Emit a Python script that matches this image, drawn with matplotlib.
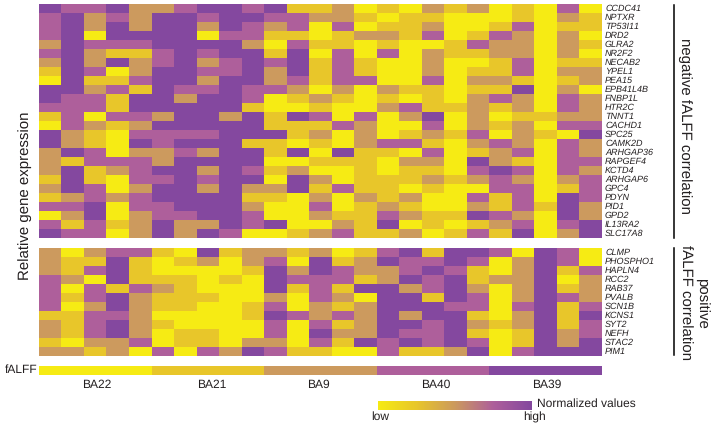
import matplotlib
matplotlib.use("Agg")
import matplotlib.pyplot as plt
import numpy as np
from matplotlib.colors import ListedColormap, LinearSegmentedColormap

plt.rcParams['font.family'] = ['Liberation Sans', 'DejaVu Sans']
plt.rcParams['text.hinting'] = 'no_hinting'
plt.rcParams['text.hinting_factor'] = 1

genes_negative = ["CCDC41","NPTXR","TP53I11","DRD2","GLRA2","NR2F2","NECAB2","YPEL1","PEA15","EPB41L4B",
                  "FNBP1L","HTR2C","TNNT1","CACHD1","SPC25","CAMK2D","ARHGAP36","RAPGEF4","KCTD4","ARHGAP6",
                  "GPC4","PDYN","PID1","GPD2","IL13RA2","SLC17A8"]
genes_positive = ["CLMP","PHOSPHO1","HAPLN4","RCC2","RAB37","PVALB","SCN1B","KCNS1","SYT2","NEFH","STAC2","PIM1"]
regions = ["BA22","BA21","BA9","BA40","BA39"]
region_levels = [0,1,2,3,4]

values_negative = [
 [4,3,3,4,2,2,3,4,4,3,4,1,1, 2,0,1,0,2,1,2,0,1,0,3,0],
 [3,4,2,3,2,4,4,3,4,4,3,3,2, 2,1,0,1,1,0,0,0,1,0,2,1],
 [3,4,2,4,2,4,4,2,4,3,2,3,0, 3,0,1,1,2,0,0,1,3,0,1,1],
 [3,4,0,4,4,4,4,0,3,3,1,1,0, 1,2,2,1,3,0,1,3,2,0,2,0],
 [2,4,3,3,3,4,4,4,4,2,0,3,1, 1,0,1,0,0,1,3,2,2,0,2,1],
 [3,4,2,1,1,3,4,3,4,4,1,4,0, 3,0,3,0,2,1,1,2,2,0,2,0],
 [2,4,2,4,2,3,4,2,3,4,3,4,1, 3,1,0,0,2,0,0,1,3,0,1,1],
 [1,4,3,0,2,4,4,3,3,4,2,4,1, 3,1,0,0,2,0,1,1,3,0,2,2],
 [0,4,1,1,3,4,4,2,4,4,2,3,1, 3,3,0,0,3,0,2,2,1,0,1,2],
 [4,4,2,3,1,4,3,3,4,3,3,2,0, 2,0,2,1,1,0,1,1,4,0,2,0],
 [4,3,3,1,4,4,2,4,4,3,0,1,2, 1,0,1,0,1,0,2,3,2,0,3,2],
 [3,3,3,1,4,4,4,4,4,1,0,0,1, 0,0,2,3,1,1,2,1,2,0,3,2],
 [1,3,0,3,3,2,4,4,2,4,1,4,3, 0,3,0,2,4,0,2,0,1,1,2,2],
 [0,3,2,1,2,4,4,4,4,4,1,1,1, 3,2,0,0,3,0,2,1,2,0,3,3],
 [4,2,1,0,3,3,3,3,4,4,4,1,2, 0,2,0,1,2,1,3,0,2,1,0,4],
 [4,2,1,0,4,3,4,4,4,1,1,0,1, 0,2,3,3,1,0,2,3,2,0,3,2],
 [2,4,3,0,2,2,3,2,4,4,1,4,0, 4,1,1,0,3,0,1,2,3,0,3,2],
 [2,1,3,3,3,2,4,4,4,4,0,0,1, 1,1,0,2,2,0,4,2,1,0,3,3],
 [2,4,1,2,3,4,4,2,4,3,1,2,0, 0,1,0,1,1,0,3,4,3,0,3,2],
 [1,4,1,0,3,3,4,3,4,4,0,4,2, 0,1,1,1,2,1,2,3,2,0,2,3],
 [2,4,3,0,2,4,4,2,4,2,2,4,1, 3,1,1,0,1,0,0,3,3,0,1,3],
 [1,2,3,2,3,4,4,4,4,1,1,0,2, 0,2,1,2,0,0,3,1,3,0,4,3],
 [3,3,4,0,3,3,4,4,4,2,0,0,3, 0,1,2,1,0,0,2,1,3,1,4,2],
 [0,2,4,0,2,3,3,4,4,3,0,0,2, 1,1,3,2,1,1,4,3,2,0,4,2],
 [3,1,3,1,2,4,2,2,4,3,4,0,0, 2,1,4,0,1,0,1,2,3,0,3,4],
 [4,3,3,0,2,4,2,4,3,0,0,1,2, 3,1,1,2,0,1,3,1,4,0,2,4],
]
values_positive = [
 [2,0,2,3,3,1,0,4,1,2,2,1,2, 0,1,3,4,1,4,4,3,0,4,3,0],
 [2,1,1,4,1,0,1,2,0,2,3,0,4, 1,2,4,3,3,4,3,0,2,4,3,0],
 [2,1,3,4,1,0,0,0,0,1,4,2,4, 3,2,2,3,4,3,1,0,2,4,1,3],
 [3,2,0,4,1,1,1,0,1,0,4,3,3, 3,1,2,4,3,4,1,2,2,4,0,2],
 [3,0,3,1,3,2,1,0,0,0,4,1,3, 1,4,4,2,3,4,2,0,2,4,1,2],
 [3,1,3,4,2,1,1,1,0,0,2,0,3, 2,0,4,4,1,4,3,0,2,4,3,2],
 [3,0,2,4,2,1,1,0,0,1,3,0,2, 1,2,4,4,4,3,3,0,3,4,1,3],
 [1,1,3,3,2,0,0,0,0,1,4,3,2, 3,2,4,2,4,4,1,0,2,4,1,4],
 [2,1,3,4,2,1,0,0,0,0,3,0,3, 1,2,4,4,3,4,2,1,2,4,1,3],
 [2,1,3,4,2,0,1,1,0,0,3,0,4, 2,2,4,3,3,4,1,0,1,4,2,3],
 [1,0,2,2,3,0,1,1,0,2,2,0,3, 1,4,3,4,3,4,3,0,1,4,2,4],
 [2,2,1,2,0,3,0,3,2,4,3,1,1, 0,0,3,1,1,2,4,0,3,4,4,4],
]
legend_gradient = np.linspace(0, 4, 256)
palette = ["#F6EB14", "#E8C62A", "#CC9A5E", "#AE5F9B", "#84489F"]

W, H = 714, 428
fig = plt.figure(figsize=(W/100, H/100), dpi=100, facecolor="white")
cells = ListedColormap(palette)
smooth = LinearSegmentedColormap.from_list("norm", palette)

def box(x0, y0, x1, y1):
    ax = fig.add_axes([x0/W, 1-y1/H, (x1-x0)/W, (y1-y0)/H])
    ax.set_axis_off()
    return ax

def txt(x, y, s, **kw):
    kw.setdefault("va", "center")
    kw.setdefault("color", "#231f20")
    fig.text(x/W, 1-y/H, s, **kw)

X0, X1 = 39, 601.7
for vals, y0, y1, genes in [(values_negative, 4, 238, genes_negative),
                            (values_positive, 247.7, 355.7, genes_positive)]:
    ax = box(X0, y0, X1, y1)
    arr = np.array(vals)
    ax.imshow(arr, cmap=cells, vmin=-0.5, vmax=4.5, aspect="auto", interpolation="nearest")
    rh = (y1-y0)/len(genes)
    for i, g in enumerate(genes):
        txt(605, y0+rh*(i+0.5), g, fontsize=6.6, style="italic", ha="left")

bar = box(X0, 365.7, X1, 374.7)
bar.imshow(np.array([region_levels]), cmap=cells, vmin=-0.5, vmax=4.5, aspect="auto", interpolation="nearest")
for r, x in zip(regions, [97, 212, 318.5, 435.5, 546.5]):
    txt(x, 385, r, fontsize=8.9, ha="center")
txt(5, 370, "fALFF", fontsize=8.9, ha="left")

cb = box(378, 400.7, 532, 410)
cb.imshow(legend_gradient[None, :], cmap=smooth, aspect="auto", interpolation="bilinear")
txt(537, 404, "Normalized values", fontsize=8.9, ha="left")
txt(380.5, 417, "low", fontsize=8.9, ha="center")
txt(535, 417, "high", fontsize=8.9, ha="center")

txt(25, 196, "Relative gene expression", fontsize=10.8, rotation=90, ha="center")
txt(685, 126, "negative fALFF correlation", fontsize=10.8, rotation=270, ha="center")
txt(702, 303, "positive", fontsize=10.8, rotation=270, ha="center")
txt(685, 303, "fALFF correlation", fontsize=10.8, rotation=270, ha="center")

fig.add_artist(plt.Line2D([674/W]*2, [1-5/H, 1-238/H], color="black", lw=1.1))
fig.add_artist(plt.Line2D([674/W]*2, [1-248/H, 1-355/H], color="black", lw=1.1))

fig.savefig("out.png", dpi=100, facecolor="white")
